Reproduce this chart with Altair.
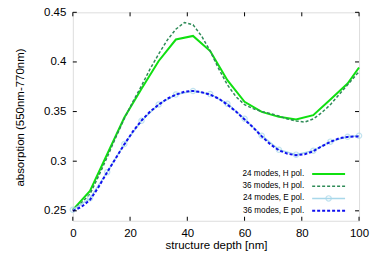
import altair as alt
import pandas as pd

# ---- data ----
x24 = [0, 6, 12, 18, 24, 30, 36, 42, 48, 54, 60, 66, 72, 78, 84, 90, 96, 100]
h24 = [0.251, 0.270, 0.307, 0.344, 0.373, 0.401, 0.4226, 0.4262, 0.411, 0.3816,
       0.3598, 0.3497, 0.3447, 0.342, 0.3464, 0.3621, 0.3782, 0.3944]
e24 = [0.251, 0.2626, 0.289, 0.3173, 0.3408, 0.3572, 0.3672, 0.3708, 0.3676, 0.3579,
       0.3428, 0.3257, 0.3116, 0.3066, 0.3106, 0.3197, 0.3247, 0.3256]

x36 = [0, 3, 6, 9, 12, 15, 18, 21, 24, 27, 30, 33, 36, 39, 42, 45, 48, 51, 54, 57,
       60, 63, 66, 69, 72, 75, 78, 81, 84, 87, 90, 93, 96, 99, 100]
h36 = [0.251, 0.258, 0.267, 0.285, 0.304, 0.324, 0.343, 0.360, 0.376, 0.393,
       0.408, 0.422, 0.433, 0.4397, 0.4375, 0.426, 0.411, 0.393, 0.377, 0.365,
       0.357, 0.353, 0.350, 0.348, 0.3455, 0.3425, 0.3405, 0.3395, 0.3425, 0.349,
       0.357, 0.367, 0.377, 0.387, 0.390]
e36 = [0.250, 0.254, 0.261, 0.274, 0.289, 0.303, 0.317, 0.330, 0.341, 0.350,
       0.357, 0.363, 0.367, 0.370, 0.3708, 0.3695, 0.367, 0.363, 0.357, 0.350,
       0.342, 0.334, 0.325, 0.317, 0.311, 0.3075, 0.306, 0.307, 0.310, 0.315,
       0.3195, 0.323, 0.3245, 0.325, 0.325]

labels = ["24 modes, H pol.", "36 modes, H pol.", "24 modes, E pol.", "36 modes, E pol."]
x_ticks = [0, 20, 40, 60, 80, 100]
y_ticks = [0.25, 0.3, 0.35, 0.4, 0.45]

FONT = "Liberation Sans"
W, H = 287, 209

xs = alt.Scale(domain=[0, 100], nice=False, zero=False)
ys = alt.Scale(domain=[0.24, 0.45], nice=False, zero=False)

xaxis = alt.Axis(values=x_ticks, format="d", ticks=False, tickSize=0, domain=False,
                 grid=False, labelPadding=7, labelFontSize=11.5, labelFont=FONT,
                 labelFlush=False, labelOverlap=False,
                 labelColor="black", title="structure depth [nm]", titleFont=FONT,
                 titleFontSize=11.5, titleFontWeight="normal", titleColor="black",
                 titleX=W / 2, titleY=19, titleBaseline="top", titleAlign="center")
yaxis = alt.Axis(values=y_ticks, format="~g", ticks=False, tickSize=0, domain=False,
                 grid=False, labelPadding=7, labelFontSize=11.5, labelFont=FONT,
                 labelFlush=False, labelOverlap=False,
                 labelColor="black", title="absorption (550nm-770nm)", titleFont=FONT,
                 titleFontSize=11.5, titleFontWeight="normal", titleColor="black",
                 titleX=-47, titleY=105, titleAngle=270, titleBaseline="bottom",
                 titleAlign="center")

d24 = pd.DataFrame({"x": x24, "h": h24, "e": e24})
d36 = pd.DataFrame({"x": x36, "h": h36, "e": e36})

cols = ["#10e010", "#2e8b57", "#a8d8ea", "#1010f0"]

h24_line = alt.Chart(d24).mark_line(color=cols[0], strokeWidth=2).encode(
    x=alt.X("x:Q", scale=xs, axis=xaxis), y=alt.Y("h:Q", scale=ys, axis=yaxis))
h36_line = alt.Chart(d36).mark_line(color=cols[1], strokeWidth=1.5, strokeDash=[3, 2]).encode(
    x=alt.X("x:Q", scale=xs), y=alt.Y("h:Q", scale=ys))
e24_line = alt.Chart(d24).mark_line(color=cols[2], strokeWidth=1.5).encode(
    x=alt.X("x:Q", scale=xs), y=alt.Y("e:Q", scale=ys))
e24_pts = alt.Chart(d24).mark_point(shape="circle", filled=False, color=cols[2],
                                    size=28, strokeWidth=1.2).encode(
    x=alt.X("x:Q", scale=xs), y=alt.Y("e:Q", scale=ys))
e36_line = alt.Chart(d36).mark_line(color=cols[3], strokeWidth=2, strokeDash=[3, 2]).encode(
    x=alt.X("x:Q", scale=xs), y=alt.Y("e:Q", scale=ys))

# inward ticks on all four sides
xt = pd.DataFrame({"t": x_ticks})
yt = pd.DataFrame({"t": y_ticks})
tick_style = dict(color="black", strokeWidth=1)
ticks = [
    alt.Chart(xt).mark_rule(**tick_style).encode(x=alt.X("t:Q", scale=xs), y=alt.value(H), y2=alt.value(H - 4)),
    alt.Chart(xt).mark_rule(**tick_style).encode(x=alt.X("t:Q", scale=xs), y=alt.value(0), y2=alt.value(4)),
    alt.Chart(yt).mark_rule(**tick_style).encode(y=alt.Y("t:Q", scale=ys), x=alt.value(0), x2=alt.value(4)),
    alt.Chart(yt).mark_rule(**tick_style).encode(y=alt.Y("t:Q", scale=ys), x=alt.value(W - 4), x2=alt.value(W)),
]

# manual legend (gnuplot style: label then sample)
rows_y = [162, 174.3, 186.6, 198.9]
dashes = [None, [3, 2], None, [3, 2]]
widths = [2, 1.5, 1.5, 2]
legend_layers = []
for i, lab in enumerate(labels):
    ld = pd.DataFrame({"label": [lab]})
    legend_layers.append(
        alt.Chart(ld).mark_text(align="right", baseline="middle", font=FONT, fontSize=8.2,
                                color="black").encode(
            text="label:N", x=alt.value(232), y=alt.value(rows_y[i])))
    rule_kw = dict(color=cols[i], strokeWidth=widths[i])
    if dashes[i]:
        rule_kw["strokeDash"] = dashes[i]
    legend_layers.append(
        alt.Chart(ld).mark_rule(**rule_kw).encode(
            x=alt.value(240), x2=alt.value(273), y=alt.value(rows_y[i])))
    if i == 2:
        legend_layers.append(
            alt.Chart(ld).mark_point(shape="circle", filled=False, color=cols[2],
                                     size=28, strokeWidth=1.2).encode(
                x=alt.value(256.5), y=alt.value(rows_y[i])))

chart = alt.layer(
    h24_line, h36_line, e24_line, e24_pts, e36_line, *ticks, *legend_layers
).properties(
    width=W, height=H,
    autosize=alt.AutoSizeParams(type="none"),
    padding={"left": 65, "top": 4, "right": 14, "bottom": 32},
).configure_view(stroke="black", strokeWidth=1).configure(background="white")

chart.save("out.html", embed_options={"renderer": "svg", "actions": False})
